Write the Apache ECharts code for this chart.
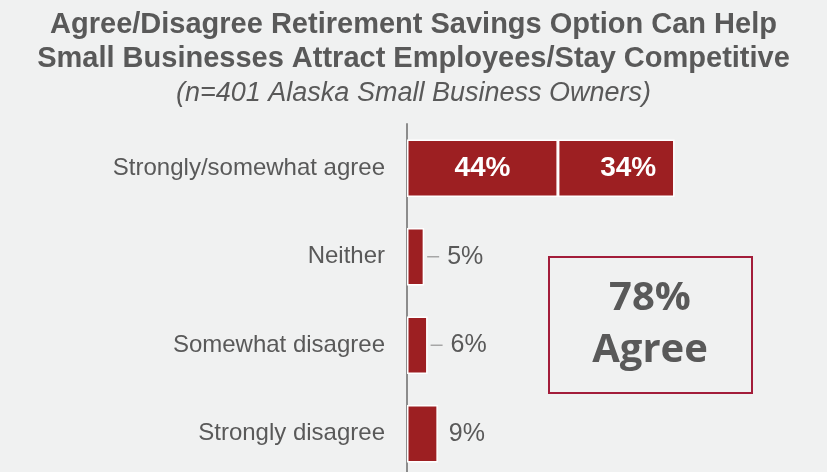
<!DOCTYPE html>
<html>
<head>
<meta charset="utf-8">
<script src="https://cdn.jsdelivr.net/npm/echarts@6/dist/echarts.min.js"></script>
<style>
  html, body { margin: 0; padding: 0; background: #f0f1f1; }
  #main { width: 827px; height: 472px; }
</style>
</head>
<body>
<div id="main"></div>
<script>
var categories = ['Strongly/somewhat agree', 'Neither', 'Somewhat disagree', 'Strongly disagree'];
var firstPart = [44, 5, 6, 9];
var secondPart = [34, '-', '-', '-'];
var agreeTotal = firstPart[0] + secondPart[0];

var dom = echarts.init(document.getElementById('main'));

var barRed = '#9d1f22';
var grayText = '#595959';

var bigLabel = {
  position: 'inside',
  formatter: '{c}%',
  color: '#ffffff',
  fontFamily: 'Liberation Sans',
  fontWeight: 'bold',
  fontSize: 28
};

// first stack segment; the agree bar carries its own white label inside
var firstData = firstPart.map(function (v, i) {
  if (i === 0) return { value: v, label: bigLabel };
  return v;
});

option = {
  backgroundColor: '#f0f1f1',
  title: [
    {
      text: 'Agree/Disagree Retirement Savings Option Can Help\nSmall Businesses Attract Employees/Stay Competitive',
      left: 'center',
      top: 3,
      textStyle: {
        fontFamily: 'Liberation Sans',
        fontWeight: 'bold',
        fontSize: 29,
        lineHeight: 34,
        color: grayText
      }
    },
    {
      text: '(n=401 Alaska Small Business Owners)',
      left: 'center',
      top: 75,
      textStyle: {
        fontFamily: 'Liberation Sans',
        fontStyle: 'italic',
        fontWeight: 'normal',
        fontSize: 27,
        color: grayText
      }
    }
  ],
  grid: {
    left: 407,
    right: 77,
    top: 124,
    height: 354,
    outerBoundsMode: 'none'
  },
  xAxis: {
    type: 'value',
    min: 0,
    max: 100,
    show: false
  },
  yAxis: {
    type: 'category',
    inverse: true,
    data: categories,
    axisLine: { show: true, lineStyle: { color: '#8c8c8c', width: 2 } },
    axisTick: { show: false },
    axisLabel: {
      fontFamily: 'Liberation Sans',
      fontSize: 24,
      color: grayText,
      margin: 22
    }
  },
  series: [
    {
      type: 'bar',
      stack: 'total',
      data: firstData,
      barCategoryGap: '35%',
      itemStyle: { color: barRed, borderColor: '#ffffff', borderWidth: 1.5 },
      label: {
        show: true,
        formatter: function (p) {
          if (p.dataIndex < 3) return '{ln|}{sm|' + p.value + '%}';
          return '{sm|' + p.value + '%}';
        },
        position: 'right',
        distance: 3,
        rich: {
          ln: { width: 12, height: 1.5, backgroundColor: '#a6a6a6' },
          sm: { color: grayText, fontFamily: 'Liberation Sans', fontSize: 25, padding: [0, 0, 0, 8] }
        }
      }
    },
    {
      type: 'bar',
      stack: 'total',
      data: secondPart,
      barCategoryGap: '35%',
      itemStyle: { color: barRed, borderColor: '#ffffff', borderWidth: 1.5 },
      label: {
        show: true,
        position: 'inside',
        offset: [12, 0],
        formatter: '{c}%',
        color: '#ffffff',
        fontFamily: 'Liberation Sans',
        fontWeight: 'bold',
        fontSize: 28
      }
    }
  ],
  graphic: [
    {
      type: 'group',
      left: 548,
      top: 256,
      children: [
        {
          type: 'rect',
          shape: { x: 0, y: 0, width: 203, height: 136 },
          style: { fill: 'transparent', stroke: '#a31d3a', lineWidth: 2 }
        },
        {
          type: 'text',
          x: 101,
          y: 68,
          style: {
            text: agreeTotal + '%\nAgree',
            align: 'center',
            verticalAlign: 'middle',
            fill: grayText,
            font: 'bold 40px "Open Sans"',
            lineHeight: 52
          }
        }
      ]
    }
  ]
};

dom.setOption(option);
</script>
</body>
</html>
